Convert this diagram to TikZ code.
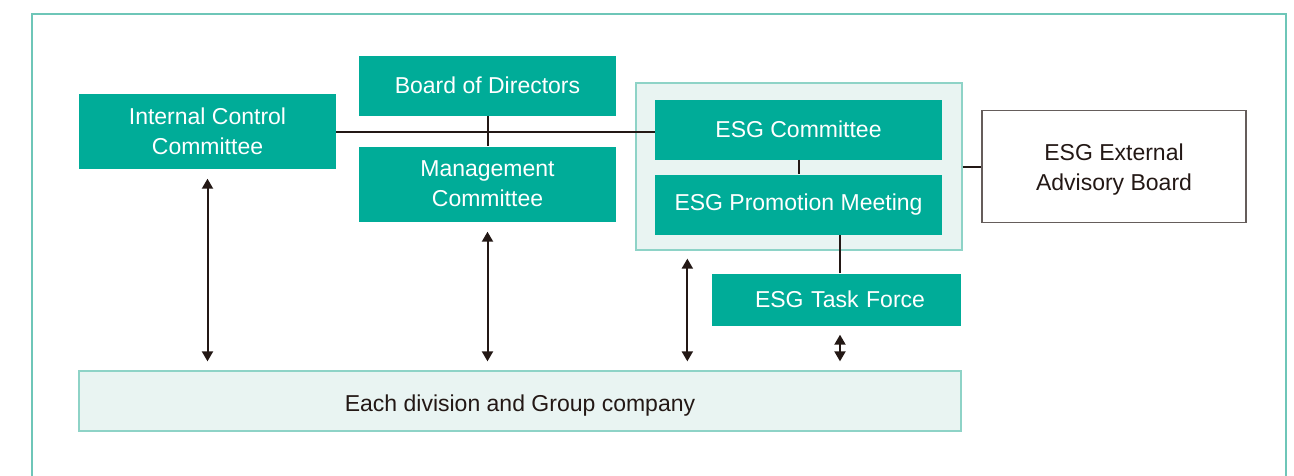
\documentclass[tikz,border=0pt]{standalone}
\usepackage{fontspec}
\setmainfont{Liberation Sans}
\usetikzlibrary{arrows.meta,calc}
\definecolor{teal1}{HTML}{00AC98}
\definecolor{frame1}{HTML}{6EC6B8}
\definecolor{light1}{HTML}{E9F4F2}
\definecolor{lborder}{HTML}{8ED3C7}
\definecolor{ink}{HTML}{231815}
\tikzset{
  tealbox/.style={fill=teal1, draw=none, text=white, align=center, inner sep=0pt,
    font=\fontsize{23}{30}\selectfont},
  lightbox/.style={fill=light1, draw=lborder, line width=1.3pt, inner sep=0pt},
  whitebox/.style={fill=white, draw=ink!70, line width=1.3pt, inner sep=0pt},
  conn/.style={draw=ink, line width=2pt},
  dbl/.style={draw=ink, line width=2pt, {Triangle[length=10pt,width=11pt]}-{Triangle[length=10pt,width=11pt]}}
}
\begin{document}
\begin{tikzpicture}[x=1pt,y=-1pt]
\useasboundingbox (0,0) rectangle (1294,475);
\draw[frame1, line width=2pt] (32,500) -- (32,14) -- (1286,14) -- (1286,500);
% ESG group
\node[lightbox, minimum width=326pt, minimum height=167pt] (grp) at (799,166.5) {};
% boxes
\node[tealbox, minimum width=257pt, minimum height=75pt] (icc) at (207.5,131) {Internal Control\\Committee};
\node[tealbox, minimum width=257pt, minimum height=60pt] (bod) at (487.5,85.5) {Board of Directors};
\node[tealbox, minimum width=257pt, minimum height=75pt] (mc) at (487.5,184) {Management\\Committee};
\node[tealbox, minimum width=287pt, minimum height=60pt] (esgc) at (798.5,129.5) {ESG Committee};
\node[tealbox, minimum width=287pt, minimum height=60pt] (esgp) at (798.5,204.5) {ESG Promotion Meeting};
\node[tealbox, minimum width=249pt, minimum height=52pt, text width=249pt] (tf) at (836.5,299.5) {\hspace*{7pt}ESG Task Force};
\node[whitebox, minimum width=264pt, minimum height=112pt,
  label={[yshift=-3pt, align=center, text=ink, font=\fontsize{23}{30}\selectfont]center:ESG External\\Advisory Board}] (eab) at (1114,166.5) {};
\node[lightbox, minimum width=882pt, minimum height=60pt, text=ink, text height=21.6pt, text depth=0pt,
  font=\fontsize{23}{30}\selectfont] (div) at (520,401) {Each division and Group company};
% connectors
\draw[conn] ([yshift=-0.5pt]icc.east) -- ([yshift=-0.5pt]icc.east -| esgc.west);
\draw[conn] (bod.south) -- (mc.north);
\draw[conn] (esgc.south) -- (esgp.south |- esgp.north);
\draw[conn] ([xshift=3.5pt]tf.north) -- ([xshift=3.5pt]tf.north |- esgp.south);
\draw[conn] (grp.east) -- (grp.east -| eab.west);
% arrows
\coordinate (b1) at ([yshift=9pt]div.north);
\draw[dbl] ([yshift=-10pt]icc.south) -- (icc.south |- b1);
\draw[dbl] ([yshift=-10pt]mc.south) -- (mc.south |- b1);
\coordinate (ga) at ([xshift=52pt,yshift=-8pt]grp.south west);
\draw[dbl] (ga) -- (ga |- b1);
\coordinate (ta) at ([xshift=3.5pt,yshift=-9pt]tf.south);
\draw[dbl] (ta) -- (ta |- b1);
\end{tikzpicture}
\end{document}
